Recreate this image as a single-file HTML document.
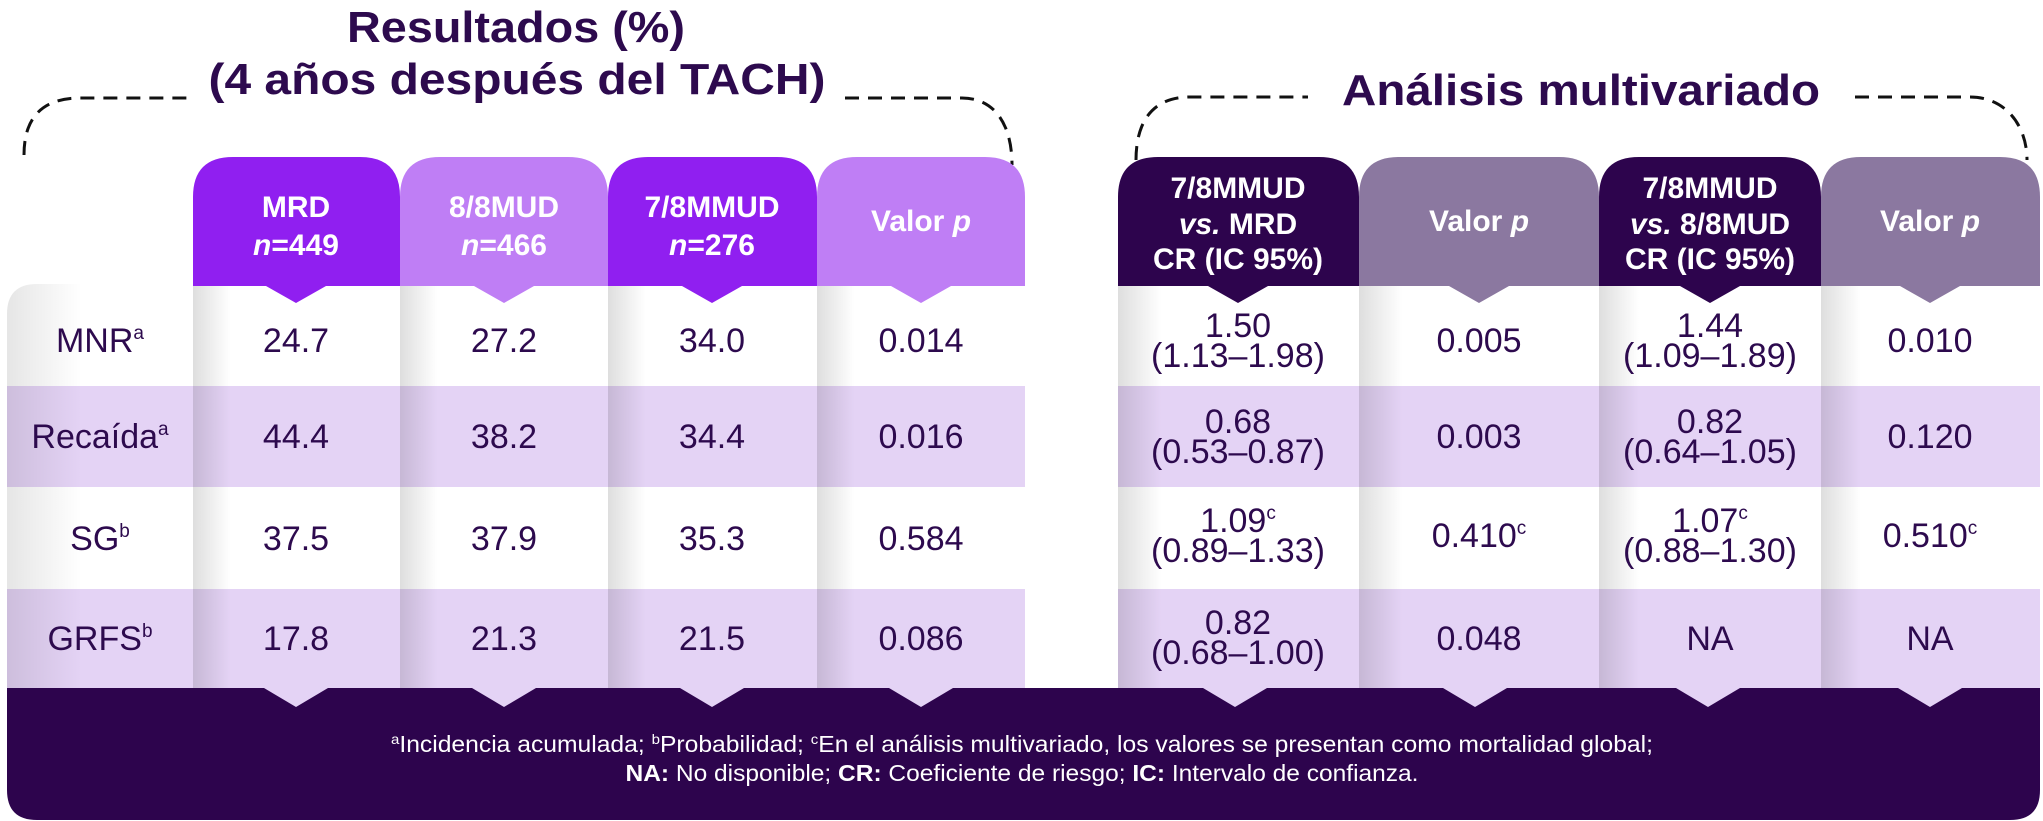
<!DOCTYPE html>
<html><head><meta charset="utf-8"><style>
html,body{margin:0;padding:0;background:#fff;}
svg{display:block;}
text{font-family:"Liberation Sans",sans-serif;}
</style></head><body>
<svg width="2043" height="821" viewBox="0 0 2043 821" xmlns="http://www.w3.org/2000/svg">
<defs>
<linearGradient id="sh" x1="0" y1="0" x2="1" y2="0">
<stop offset="0" stop-color="#000" stop-opacity="0.13"/>
<stop offset="0.18" stop-color="#000" stop-opacity="0"/>
</linearGradient>
<linearGradient id="shL" x1="0" y1="0" x2="1" y2="0">
<stop offset="0" stop-color="#000" stop-opacity="0.10"/>
<stop offset="0.4" stop-color="#000" stop-opacity="0"/>
</linearGradient>
</defs>

<!-- titles -->
<g fill="#2d0a4e" font-weight="bold" text-anchor="middle">
<text x="516" y="42" font-size="44" textLength="338" lengthAdjust="spacingAndGlyphs">Resultados (%)</text>
<text x="517" y="94" font-size="44" textLength="617" lengthAdjust="spacingAndGlyphs">(4 años después del TACH)</text>
<text x="1581" y="105" font-size="44" textLength="478" lengthAdjust="spacingAndGlyphs">Análisis multivariado</text>
</g>
<!-- brackets -->
<g fill="none" stroke="#111" stroke-width="3" stroke-dasharray="14 9">
<path d="M24 155 C24 120 40 98 80 98 L192 98"/>
<path d="M845 98 L962 98 C995 98 1012 125 1012 165"/>
<path d="M1136 160 C1136 125 1150 97 1190 97 L1308 97"/>
<path d="M1855 97 L1970 97 C2005 97 2027 125 2027 160"/>
</g>

<!-- label column -->
<path d="M7 314 Q7 284 37 284 L193 284 L193 688 L7 688 Z" fill="#fff"/>
<rect x="7" y="386" width="186" height="101" fill="#e4d3f5"/>
<rect x="7" y="589" width="186" height="99" fill="#e4d3f5"/>
<path d="M7 314 Q7 284 37 284 L193 284 L193 688 L7 688 Z" fill="url(#shL)"/>

<!-- data rows background -->
<g>
<rect x="193" y="386" width="832" height="101" fill="#e4d3f5"/>
<rect x="193" y="589" width="832" height="99" fill="#e4d3f5"/>
<rect x="1118" y="386" width="922" height="101" fill="#e4d3f5"/>
<rect x="1118" y="589" width="922" height="99" fill="#e4d3f5"/>
</g>
<!-- column shadows -->
<g fill="url(#sh)">
<rect x="193" y="284" width="207" height="404"/>
<rect x="400" y="284" width="208" height="404"/>
<rect x="608" y="284" width="209" height="404"/>
<rect x="817" y="284" width="208" height="404"/>
<rect x="1118" y="284" width="241" height="404"/>
<rect x="1359" y="284" width="240" height="404"/>
<rect x="1599" y="284" width="222" height="404"/>
<rect x="1821" y="284" width="219" height="404"/>
</g>

<!-- headers -->
<g>
<path d="M193 286 L193 197 Q193 157 233 157 L360 157 Q400 157 400 197 L400 286 L326 286 L296 303 L266 286 Z" fill="#901ff0"/>
<path d="M400 286 L400 197 Q400 157 440 157 L568 157 Q608 157 608 197 L608 286 L534 286 L504 303 L474 286 Z" fill="#bf7ef5"/>
<path d="M608 286 L608 197 Q608 157 648 157 L777 157 Q817 157 817 197 L817 286 L742 286 L712 303 L682 286 Z" fill="#901ff0"/>
<path d="M817 286 L817 197 Q817 157 857 157 L985 157 Q1025 157 1025 197 L1025 286 L951 286 L921 303 L891 286 Z" fill="#bf7ef5"/>
<path d="M1118 286 L1118 197 Q1118 157 1158 157 L1319 157 Q1359 157 1359 197 L1359 286 L1268 286 L1238 303 L1208 286 Z" fill="#2d044d"/>
<path d="M1359 286 L1359 197 Q1359 157 1399 157 L1559 157 Q1599 157 1599 197 L1599 286 L1509 286 L1479 303 L1449 286 Z" fill="#8b78a0"/>
<path d="M1599 286 L1599 197 Q1599 157 1639 157 L1781 157 Q1821 157 1821 197 L1821 286 L1740 286 L1710 303 L1680 286 Z" fill="#2d044d"/>
<path d="M1821 286 L1821 197 Q1821 157 1861 157 L2000 157 Q2040 157 2040 197 L2040 286 L1960 286 L1930 303 L1900 286 Z" fill="#8b78a0"/>
</g>
<g fill="#fff" font-weight="bold" font-size="30" text-anchor="middle">
<text x="296" y="217">MRD</text><text x="296" y="255"><tspan font-style="italic">n</tspan>=449</text>
<text x="504" y="217">8/8MUD</text><text x="504" y="255"><tspan font-style="italic">n</tspan>=466</text>
<text x="712" y="217">7/8MMUD</text><text x="712" y="255"><tspan font-style="italic">n</tspan>=276</text>
<text x="921" y="231">Valor <tspan font-style="italic">p</tspan></text>
<text x="1238" y="198">7/8MMUD</text><text x="1238" y="234"><tspan font-style="italic">vs.</tspan> MRD</text><text x="1238" y="269">CR (IC 95%)</text>
<text x="1479" y="231">Valor <tspan font-style="italic">p</tspan></text>
<text x="1710" y="198">7/8MMUD</text><text x="1710" y="234"><tspan font-style="italic">vs.</tspan> 8/8MUD</text><text x="1710" y="269">CR (IC 95%)</text>
<text x="1930" y="231">Valor <tspan font-style="italic">p</tspan></text>
</g>

<!-- footer -->
<path d="M7 688 L2040 688 L2040 790 Q2040 820 2010 820 L37 820 Q7 820 7 790 Z" fill="#2d044d"/>
<g fill="#e4d3f5">
<path d="M264 688 L328 688 L296 707 Z"/>
<path d="M472 688 L536 688 L504 707 Z"/>
<path d="M680 688 L744 688 L712 707 Z"/>
<path d="M889 688 L953 688 L921 707 Z"/>
<path d="M1203 688 L1267 688 L1235 707 Z"/>
<path d="M1443 688 L1507 688 L1475 707 Z"/>
<path d="M1676 688 L1740 688 L1708 707 Z"/>
<path d="M1898 688 L1962 688 L1930 707 Z"/>
</g>
<g fill="#fff" font-size="23" text-anchor="middle">
<text x="1022" y="752" textLength="1262" lengthAdjust="spacingAndGlyphs"><tspan font-size="14" dy="-8">a</tspan><tspan dy="8">Incidencia acumulada; </tspan><tspan font-size="14" dy="-8">b</tspan><tspan dy="8">Probabilidad; </tspan><tspan font-size="14" dy="-8">c</tspan><tspan dy="8">En el análisis multivariado, los valores se presentan como mortalidad global;</tspan></text>
<text x="1022" y="781" textLength="793" lengthAdjust="spacingAndGlyphs"><tspan font-weight="bold">NA:</tspan> No disponible; <tspan font-weight="bold">CR:</tspan> Coeficiente de riesgo; <tspan font-weight="bold">IC:</tspan> Intervalo de confianza.</text>
</g>

<!-- data -->
<g fill="#2d0a4e" font-size="34" text-anchor="middle">
<text x="100" y="352">MNR<tspan font-size="19" dy="-13">a</tspan></text>
<text x="100" y="448">Recaída<tspan font-size="19" dy="-13">a</tspan></text>
<text x="100" y="550">SG<tspan font-size="19" dy="-13">b</tspan></text>
<text x="100" y="650">GRFS<tspan font-size="19" dy="-13">b</tspan></text>

<text x="296" y="352">24.7</text><text x="504" y="352">27.2</text><text x="712" y="352">34.0</text><text x="921" y="352">0.014</text>
<text x="296" y="448">44.4</text><text x="504" y="448">38.2</text><text x="712" y="448">34.4</text><text x="921" y="448">0.016</text>
<text x="296" y="550">37.5</text><text x="504" y="550">37.9</text><text x="712" y="550">35.3</text><text x="921" y="550">0.584</text>
<text x="296" y="650">17.8</text><text x="504" y="650">21.3</text><text x="712" y="650">21.5</text><text x="921" y="650">0.086</text>

<text x="1238" y="337">1.50</text><text x="1238" y="367">(1.13–1.98)</text>
<text x="1479" y="352">0.005</text>
<text x="1710" y="337">1.44</text><text x="1710" y="367">(1.09–1.89)</text>
<text x="1930" y="352">0.010</text>

<text x="1238" y="433">0.68</text><text x="1238" y="463">(0.53–0.87)</text>
<text x="1479" y="448">0.003</text>
<text x="1710" y="433">0.82</text><text x="1710" y="463">(0.64–1.05)</text>
<text x="1930" y="448">0.120</text>

<text x="1238" y="532">1.09<tspan font-size="19" dy="-13">c</tspan></text><text x="1238" y="562">(0.89–1.33)</text>
<text x="1479" y="547">0.410<tspan font-size="19" dy="-13">c</tspan></text>
<text x="1710" y="532">1.07<tspan font-size="19" dy="-13">c</tspan></text><text x="1710" y="562">(0.88–1.30)</text>
<text x="1930" y="547">0.510<tspan font-size="19" dy="-13">c</tspan></text>

<text x="1238" y="634">0.82</text><text x="1238" y="664">(0.68–1.00)</text>
<text x="1479" y="650">0.048</text>
<text x="1710" y="650">NA</text>
<text x="1930" y="650">NA</text>
</g>
</svg>
</body></html>
